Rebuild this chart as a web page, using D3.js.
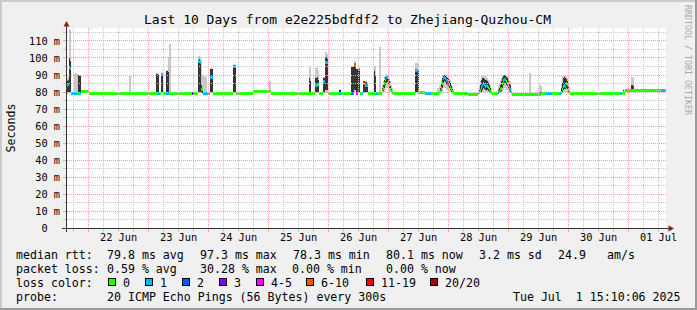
<!DOCTYPE html>
<html>
<head>
<meta charset="utf-8">
<script src="https://cdn.jsdelivr.net/npm/d3@7"></script>
<style>
  body { margin: 0; background: #f0f0f0; }
  svg { display: block; font-family: "DejaVu Sans Mono", monospace; }
  text { white-space: pre; }
</style>
</head>
<body>
<svg id="chart" width="697" height="310"></svg>
<script>
// ---- data (hours counted from Jun 21 00:00, graph runs 15:10 .. Jul 1 15:10) ----
var startHour = 15 + 10 / 60,
    endHour = 255 + 10 / 60,
    stepH = 0.4;              // one consolidated row = 24 min

// median rtt between the spikes: [from hour, ms]
var baseline = [
  [15.2, 78.9], [21.2, 79.8], [24.4, 78.9], [90.0, 79.8], [97.2, 78.9],
  [156.4, 79.6], [158.8, 78.9], [176.0, 78.3], [180.0, 78.9], [193.6, 78.2],
  [205.2, 78.6], [207.2, 78.9], [238.8, 80.4]
];

// rows on the baseline that only show packet loss: [hour, lost pings of 20]
var baseLoss = [
  [17.2, 1], [17.6, 1], [18.0, 1], [52.4, 1], [65.6, 3], [66.0, 3],
  [71.6, 1], [72.0, 1], [72.4, 1], [133.6, 1], [138.0, 1], [139.2, 1], [139.6, 1], [141.2, 1],
  [158.8, 1], [159.2, 1], [159.6, 1], [160.0, 1], [160.4, 1], [160.8, 1], [174.8, 1],
  [207.2, 1], [207.6, 1], [208.0, 1], [208.4, 1], [208.8, 1], [209.2, 1],
  [212.4, 1], [212.8, 1], [236.8, 1], [253.2, 1], [253.6, 1], [254.0, 1], [254.4, 1]
];

// rows with smoke: [hour, median, lost, min, low, high, max]  (ms)
var samples = [
  [15.6, 83.5, 1, 78.5, 79.0, 86.0, 88.0],
  [16.0, 84.0, 1, 78.5, 80.0, 87.0, 90.0],
  [16.4, 94.0, 1, 79.0, 80.0, 100.0, 116.5],
  [16.8, 93.8, 1, 79.0, 80.0, 98.0, 116.0],
  [18.4, 79.0, 1, 78.5, 78.8, 79.5, 90.5],
  [18.8, 79.0, 1, 78.5, 78.8, 79.5, 90.8],
  [19.2, 79.0, 1, 78.5, 78.8, 79.5, 90.8],
  [19.6, 79.0, 0, 78.5, 78.8, 79.5, 90.5],
  [20.0, 79.0, 0, 78.5, 79.0, 89.5, 90.0],
  [20.4, 79.0, 1, 78.5, 79.0, 89.5, 90.0],
  [20.8, 79.0, 1, 78.5, 79.0, 89.0, 90.0],
  [40.4, 78.9, 0, 78.5, 78.8, 79.2, 89.4],
  [40.8, 78.9, 0, 78.5, 78.8, 79.2, 89.0],
  [51.2, 79.0, 0, 78.5, 79.5, 90.5, 91.0],
  [51.6, 79.0, 0, 78.5, 79.5, 90.5, 91.0],
  [52.0, 79.0, 1, 78.5, 79.5, 90.0, 91.0],
  [53.2, 89.8, 1, 79.0, 80.0, 90.0, 91.5],
  [53.6, 89.8, 1, 79.0, 80.0, 90.0, 91.0],
  [55.2, 79.0, 1, 78.5, 79.5, 92.0, 92.5],
  [55.6, 79.0, 1, 78.5, 79.5, 92.0, 92.5],
  [56.0, 79.0, 1, 78.5, 80.0, 91.5, 100.0],
  [56.4, 79.0, 0, 78.5, 79.0, 80.0, 108.0],
  [56.8, 79.0, 0, 78.5, 79.0, 79.5, 108.0],
  [68.0, 97.8, 1, 79.0, 80.0, 98.7, 100.7],
  [68.4, 97.8, 1, 79.0, 80.0, 99.0, 101.0],
  [68.8, 97.0, 1, 79.0, 80.0, 98.0, 100.0],
  [69.2, 81.2, 0, 79.0, 79.5, 84.0, 99.0],
  [69.6, 81.0, 0, 78.5, 79.0, 82.0, 90.0],
  [70.0, 79.0, 1, 78.5, 78.8, 79.5, 89.0],
  [70.4, 79.0, 1, 78.5, 78.8, 79.5, 89.0],
  [70.8, 79.0, 1, 78.5, 78.8, 79.5, 88.8],
  [71.2, 79.0, 1, 78.5, 78.8, 79.5, 88.5],
  [72.8, 88.4, 1, 79.0, 80.0, 93.5, 94.0],
  [73.2, 88.4, 1, 79.0, 80.0, 93.5, 94.0],
  [73.6, 88.4, 1, 79.0, 80.0, 93.0, 93.8],
  [82.0, 95.0, 1, 79.0, 80.0, 95.8, 96.0],
  [82.4, 95.0, 1, 79.0, 80.0, 95.8, 96.0],
  [82.8, 94.8, 1, 79.0, 80.0, 95.0, 95.5],
  [96.4, 79.8, 0, 79.5, 79.7, 80.0, 86.0],
  [96.8, 79.8, 0, 79.5, 79.7, 80.0, 86.0],
  [112.4, 79.0, 1, 78.5, 79.5, 88.0, 94.5],
  [112.8, 79.0, 0, 78.5, 79.5, 86.0, 94.5],
  [114.8, 83.7, 1, 79.0, 80.0, 88.0, 94.0],
  [115.2, 83.7, 1, 79.0, 80.0, 88.0, 94.0],
  [115.6, 83.7, 1, 79.0, 80.0, 88.5, 94.5],
  [116.0, 84.0, 0, 79.0, 80.0, 87.0, 92.0],
  [118.0, 86.0, 1, 79.0, 80.0, 88.0, 88.5],
  [118.4, 86.0, 1, 79.0, 80.0, 88.0, 88.5],
  [118.8, 97.2, 1, 79.0, 81.0, 100.0, 103.0],
  [119.2, 97.2, 1, 79.0, 81.0, 100.0, 103.0],
  [119.6, 97.0, 1, 79.0, 81.0, 99.0, 102.0],
  [124.4, 79.0, 1, 78.5, 79.0, 81.0, 81.5],
  [124.8, 79.0, 1, 78.5, 79.0, 81.0, 81.5],
  [129.2, 79.0, 2, 78.5, 80.0, 94.5, 95.0],
  [129.6, 79.0, 2, 78.5, 80.0, 94.5, 95.0],
  [130.0, 79.0, 1, 78.5, 80.0, 94.5, 95.0],
  [130.4, 96.0, 6, 79.0, 81.0, 96.0, 98.2],
  [130.8, 96.0, 6, 79.0, 81.0, 96.0, 98.2],
  [131.2, 79.0, 4, 78.5, 80.0, 93.0, 93.5],
  [131.6, 79.0, 4, 78.5, 80.0, 93.0, 93.5],
  [132.0, 92.9, 1, 79.0, 80.0, 93.5, 94.0],
  [132.4, 92.9, 1, 79.0, 80.0, 93.5, 94.0],
  [134.0, 84.5, 6, 79.0, 80.0, 86.0, 86.5],
  [134.4, 84.5, 6, 79.0, 80.0, 86.0, 86.5],
  [134.8, 83.4, 1, 79.0, 80.0, 85.5, 86.0],
  [135.2, 83.4, 1, 79.0, 80.0, 85.5, 86.0],
  [135.6, 83.4, 1, 79.0, 80.0, 84.0, 85.0],
  [138.4, 79.0, 0, 78.5, 79.5, 92.0, 95.0],
  [138.8, 79.0, 0, 78.5, 79.5, 90.0, 94.9],
  [140.4, 79.0, 0, 78.5, 79.0, 80.0, 106.4],
  [140.8, 79.0, 0, 78.5, 79.0, 80.0, 106.4],
  [141.6, 80.5, 0, 79.0, 79.5, 82.0, 84.0],
  [142.0, 82.0, 0, 79.5, 80.5, 84.0, 86.0],
  [142.4, 84.5, 0, 80.0, 82.0, 87.0, 89.0],
  [142.8, 86.5, 0, 81.0, 84.0, 88.5, 90.0],
  [143.2, 88.0, 1, 82.0, 85.0, 89.0, 90.5],
  [143.6, 88.0, 1, 82.0, 85.5, 89.0, 90.0],
  [144.0, 86.0, 1, 81.0, 84.0, 88.0, 89.5],
  [144.4, 83.5, 0, 80.0, 82.0, 86.0, 88.0],
  [144.8, 81.5, 0, 79.5, 80.5, 83.5, 86.0],
  [145.2, 80.0, 0, 79.0, 79.5, 81.5, 84.0],
  [145.6, 79.3, 0, 78.8, 79.0, 80.0, 82.0],
  [154.8, 92.2, 1, 79.0, 80.0, 93.0, 96.5],
  [155.2, 92.2, 1, 79.0, 80.0, 93.0, 96.5],
  [155.6, 92.2, 1, 79.0, 80.0, 93.0, 96.5],
  [156.0, 79.6, 0, 79.0, 80.0, 92.0, 96.0],
  [163.6, 78.9, 0, 78.5, 78.8, 80.0, 82.0],
  [164.0, 78.9, 0, 78.5, 78.8, 80.0, 82.0],
  [164.4, 79.2, 0, 78.5, 78.8, 80.5, 83.0],
  [164.8, 80.0, 0, 79.0, 79.5, 82.0, 84.0],
  [165.2, 82.0, 0, 79.5, 80.5, 85.0, 87.0],
  [165.6, 85.0, 0, 80.0, 82.0, 88.0, 89.5],
  [166.0, 87.5, 1, 82.0, 85.0, 89.0, 90.0],
  [166.4, 88.3, 1, 82.0, 86.0, 89.5, 90.0],
  [166.8, 87.5, 1, 82.0, 85.5, 89.0, 90.0],
  [167.2, 86.8, 1, 81.0, 84.5, 88.5, 89.5],
  [167.6, 86.4, 1, 81.0, 84.0, 88.0, 89.5],
  [168.0, 86.0, 1, 81.0, 83.5, 88.0, 89.0],
  [168.4, 84.0, 0, 80.0, 82.0, 86.5, 88.0],
  [168.8, 82.5, 0, 79.5, 81.0, 85.0, 87.0],
  [169.2, 81.0, 0, 79.0, 80.0, 83.0, 85.0],
  [169.6, 80.0, 0, 79.0, 79.5, 81.5, 83.0],
  [170.0, 79.3, 0, 78.8, 79.0, 80.0, 81.0],
  [180.4, 79.5, 0, 78.5, 79.0, 81.0, 83.0],
  [180.8, 80.5, 0, 79.0, 79.5, 84.0, 86.0],
  [181.2, 82.5, 0, 79.0, 80.0, 87.0, 89.0],
  [181.6, 83.7, 1, 79.5, 81.0, 88.0, 89.2],
  [182.0, 85.0, 0, 80.0, 82.0, 88.0, 89.0],
  [182.4, 84.0, 1, 80.0, 81.5, 87.5, 89.0],
  [182.8, 83.0, 0, 80.0, 81.0, 87.0, 89.0],
  [183.2, 83.3, 1, 80.0, 81.0, 87.0, 88.5],
  [183.6, 83.0, 0, 79.5, 81.0, 86.0, 88.0],
  [184.0, 82.5, 0, 79.5, 80.5, 85.0, 87.0],
  [184.4, 81.5, 0, 79.0, 80.0, 84.0, 86.0],
  [184.8, 80.2, 0, 79.0, 79.5, 82.0, 84.0],
  [185.2, 79.3, 0, 78.8, 79.0, 80.0, 82.0],
  [188.0, 79.5, 1, 78.8, 79.0, 81.0, 83.0],
  [188.4, 80.0, 1, 79.0, 79.5, 82.0, 85.0],
  [188.8, 81.2, 0, 79.0, 80.0, 84.0, 87.0],
  [189.2, 82.0, 0, 79.5, 80.5, 86.0, 88.0],
  [189.6, 84.5, 0, 80.0, 82.0, 88.0, 89.5],
  [190.0, 86.5, 0, 81.0, 84.0, 89.0, 90.0],
  [190.4, 87.2, 1, 82.0, 85.0, 89.5, 90.0],
  [190.8, 87.0, 1, 82.0, 85.0, 89.0, 90.0],
  [191.2, 85.8, 0, 81.0, 84.0, 88.5, 89.5],
  [191.6, 85.0, 0, 81.0, 83.0, 88.0, 89.0],
  [192.0, 84.2, 0, 80.0, 82.0, 87.0, 88.5],
  [192.4, 82.5, 1, 79.5, 81.0, 85.0, 87.0],
  [192.8, 81.5, 1, 79.0, 80.0, 84.0, 86.0],
  [193.2, 79.5, 0, 78.5, 79.0, 80.5, 82.0],
  [200.4, 78.2, 0, 78.0, 78.2, 79.0, 90.7],
  [200.8, 78.2, 0, 78.0, 78.2, 79.0, 90.7],
  [204.4, 78.4, 0, 78.0, 78.3, 80.0, 84.0],
  [204.8, 78.4, 0, 78.0, 78.3, 80.0, 84.0],
  [205.2, 78.6, 0, 78.0, 78.3, 80.0, 83.0],
  [213.2, 79.5, 1, 78.8, 79.0, 82.0, 85.0],
  [213.6, 81.0, 0, 79.0, 80.0, 85.0, 89.0],
  [214.0, 83.0, 0, 79.5, 81.0, 88.0, 90.0],
  [214.4, 83.4, 1, 80.0, 81.5, 88.5, 90.0],
  [214.8, 83.2, 1, 80.0, 81.5, 88.0, 89.5],
  [215.2, 84.5, 0, 80.0, 82.0, 87.5, 89.0],
  [215.6, 84.0, 0, 80.0, 81.5, 86.0, 88.0],
  [216.0, 81.0, 0, 79.0, 80.0, 83.0, 85.0],
  [216.4, 79.5, 0, 78.8, 79.0, 80.5, 82.0],
  [238.0, 79.5, 0, 78.8, 79.5, 81.0, 81.5],
  [241.2, 80.4, 0, 80.0, 80.5, 84.0, 88.8],
  [241.6, 80.4, 0, 80.0, 80.5, 84.0, 88.8],
  [242.0, 80.4, 0, 80.0, 80.5, 83.0, 88.0]
];

// loss colour bins (lost pings out of 20)
var lossUpper  = [0, 1, 2, 3, 5, 10, 19, 20];
var lossLabels = ["0", "1", "2", "3", "4-5", "6-10", "11-19", "20/20"];
var lossColors = ["#26ff00", "#00b8ff", "#0059ff", "#7e00ff", "#ff00ff", "#ff5500", "#ff0000", "#a10000"];

var rttStats  = ["79.8 ms avg", "97.3 ms max", "78.3 ms min", "80.1 ms now", "3.2 ms sd", "24.9", "am/s"];
var lossStats = ["0.59 % avg", "30.28 % max", "0.00 % min", "0.00 % now"];
var probeText = "20 ICMP Echo Pings (56 Bytes) every 300s";
var stampText = "Tue Jul  1 15:10:06 2025";
var titleText = "Last 10 Days from e2e225bdfdf2 to Zhejiang-Quzhou-CM";
var yMax = 117.3;

// ---- helpers ----
var t0 = new Date(2025, 5, 21);
function hourDate(h) { return new Date(t0.getTime() + h * 3600000); }
function lossColor(n) {
  for (var i = 0; i < lossUpper.length; i++) if (n <= lossUpper[i]) return lossColors[i];
  return lossColors[lossColors.length - 1];
}

var svg = d3.select("#chart");

var x = d3.scaleTime()
    .domain([hourDate(startHour), hourDate(endHour)])
    .range([66, 666]);
var y = d3.scaleLinear()
    .domain([0, yMax])
    .range([228, 28]);

// background + 3d frame
svg.append("rect").attr("width", 697).attr("height", 310).attr("fill", "#f0f0f0");
svg.append("rect").attr("width", 697).attr("height", 2).attr("fill", "#cbcbcb");
svg.append("rect").attr("width", 2).attr("height", 310).attr("fill", "#cbcbcb");
svg.append("rect").attr("y", 308).attr("width", 697).attr("height", 2).attr("fill", "#999999");
svg.append("rect").attr("x", 695).attr("width", 2).attr("height", 310).attr("fill", "#999999");

// canvas
svg.append("rect").attr("x", 66).attr("y", 28).attr("width", 600).attr("height", 200).attr("fill", "#ffffff");

// ---- one column per consolidated row ----
var sampleByKey = new Map(samples.map(function(r) { return [Math.round(r[0] * 10), r]; }));
var lossByKey = new Map(baseLoss.map(function(r) { return [Math.round(r[0] * 10), r[1]]; }));
var bisect = d3.bisector(function(d) { return d[0]; }).right;
var firstRow = Math.ceil(startHour / stepH) * stepH;
var nCols = Math.round((endHour - firstRow) / stepH);

var columns = d3.range(nCols).map(function(i) {
  var h = firstRow + i * stepH, k = Math.round(h * 10), s = sampleByKey.get(k);
  if (s) return {h: h, med: s[1], loss: s[2], min: s[3], lo: s[4], hi: s[5], max: s[6]};
  var b = baseline[Math.max(0, bisect(baseline, h + 1e-6) - 1)];
  return {h: h, med: b[1], loss: lossByKey.get(k) || 0};
});

function colX(d) { return Math.floor(x(hourDate(d.h))); }
function colW(d) { return Math.max(1, Math.floor(x(hourDate(d.h + stepH))) - colX(d)); }

var plot = svg.append("g").attr("shape-rendering", "crispEdges");
var smoky = columns.filter(function(d) { return d.max != null; });

// outer smoke
plot.selectAll(".smokeOut")
  .data(smoky)
  .enter()
  .append("rect")
    .attr("x", colX)
    .attr("width", colW)
    .attr("y", function(d) { return y(d.max); })
    .attr("height", function(d) { return y(d.min) - y(d.max); })
    .attr("fill", "#c9c9c9");

// inner smoke
plot.selectAll(".smokeIn")
  .data(smoky)
  .enter()
  .append("rect")
    .attr("x", colX)
    .attr("width", colW)
    .attr("y", function(d) { return y(d.hi); })
    .attr("height", function(d) { return y(d.lo) - y(d.hi); })
    .attr("fill", "#353535");

// median coloured by loss
plot.selectAll(".median")
  .data(columns)
  .enter()
  .append("rect")
    .attr("x", colX)
    .attr("width", colW)
    .attr("y", function(d) { return y(d.med) - 1.5; })
    .attr("height", 3)
    .attr("fill", function(d) { return lossColor(d.loss); });

// ---- grid (drawn over the data, like rrdtool) ----
var grid = svg.append("g").attr("shape-rendering", "crispEdges").attr("fill", "none");
var yMajor = y.ticks(12).filter(function(v) { return v > 0; });
var yMinor = y.ticks(24).filter(function(v) { return v > 0 && yMajor.indexOf(v) < 0; });
var xRange = x.domain();
var xMajor = d3.timeDay.range(xRange[0], xRange[1]);
var xMinor = d3.timeHour.every(6).range(xRange[0], xRange[1])
    .filter(function(d) { return d.getHours() !== 0; });

function hLines(vals, col) {
  grid.selectAll(null).data(vals).enter().append("line")
    .attr("x1", 67).attr("x2", 666)
    .attr("y1", function(v) { return Math.round(y(v)) + 0.5; })
    .attr("y2", function(v) { return Math.round(y(v)) + 0.5; })
    .attr("stroke", col).attr("stroke-dasharray", "1,1");
  grid.selectAll(null).data(vals).enter().append("line")
    .attr("x1", 63).attr("x2", 66)
    .attr("y1", function(v) { return Math.round(y(v)) + 0.5; })
    .attr("y2", function(v) { return Math.round(y(v)) + 0.5; })
    .attr("stroke", col);
}
function vLines(vals, col) {
  grid.selectAll(null).data(vals).enter().append("line")
    .attr("x1", function(d) { return Math.floor(x(d)) + 0.5; })
    .attr("x2", function(d) { return Math.floor(x(d)) + 0.5; })
    .attr("y1", 28).attr("y2", 228)
    .attr("stroke", col).attr("stroke-dasharray", "1,1");
  grid.selectAll(null).data(vals).enter().append("line")
    .attr("x1", function(d) { return Math.floor(x(d)) + 0.5; })
    .attr("x2", function(d) { return Math.floor(x(d)) + 0.5; })
    .attr("y1", 229).attr("y2", 232)
    .attr("stroke", col);
}
hLines(yMinor, "#c8c8c8");
vLines(xMinor, "#c8c8c8");
hLines(yMajor, "#f3a3a3");
vLines(xMajor, "#f3a3a3");

// ---- axes ----
var axes = svg.append("g").attr("shape-rendering", "crispEdges");
axes.append("line").attr("x1", 62).attr("x2", 670).attr("y1", 228.5).attr("y2", 228.5).attr("stroke", "#333");
axes.append("line").attr("x1", 66.5).attr("x2", 66.5).attr("y1", 232).attr("y2", 25).attr("stroke", "#333");
svg.append("path").attr("d", "M63.5,26.5L66.5,21L69.5,26.5Z").attr("fill", "#8b1e1e");
svg.append("path").attr("d", "M668.5,225.5L674,228.5L668.5,231.5Z").attr("fill", "#8b1e1e");

// y labels
var yAxis = d3.axisLeft(y)
    .ticks(12)
    .tickSize(0)
    .tickPadding(0)
    .tickFormat(function(d) { return d ? d + " m" : "0"; });
var yg = svg.append("g").attr("transform", "translate(60,0)").call(yAxis);
yg.select(".domain").remove();
yg.selectAll("text")
    .attr("font-family", "DejaVu Sans Mono, monospace")
    .attr("font-size", "10.3px")
    .attr("fill", "#000")
    .attr("dy", "0.36em")
    .attr("x", function(d) { return d ? 0 : -12.4; });
yg.attr("font-family", null).attr("font-size", null);

// x labels at noon
var noons = d3.timeDay.range(xRange[0], xRange[1])
    .map(function(d) { return d3.timeHour.offset(d, 12); })
    .filter(function(d) { return d < xRange[1]; });
var xAxis = d3.axisBottom(x)
    .tickValues(noons)
    .tickSize(0)
    .tickPadding(0)
    .tickFormat(d3.timeFormat("%d %b"));
var xg = svg.append("g").attr("transform", "translate(0,240.5)").call(xAxis);
xg.select(".domain").remove();
xg.selectAll("text")
    .attr("font-family", "DejaVu Sans Mono, monospace")
    .attr("font-size", "10.3px")
    .attr("fill", "#000")
    .attr("y", 0)
    .attr("dy", 0);
xg.attr("font-family", null).attr("font-size", null);

// ---- titles ----
svg.append("text")
    .attr("x", 347.5).attr("y", 24)
    .attr("text-anchor", "middle")
    .attr("font-size", "13px")
    .text(titleText);

svg.append("text")
    .attr("transform", "translate(14.5,128) rotate(-90)")
    .attr("text-anchor", "middle")
    .attr("font-size", "11.6px")
    .text("Seconds");

svg.append("text")
    .attr("transform", "translate(685,5) rotate(90)")
    .attr("font-size", "8.3px")
    .attr("fill", "#a8a8a8")
    .text("RRDTOOL / TOBI OETIKER");

// ---- legend ----
var leg = svg.append("g").attr("font-size", "11.6px").attr("fill", "#000");
var rowY = [259, 272.8, 286.7, 300.8];

leg.append("text").attr("x", 16).attr("y", rowY[0]).text("median rtt:");
leg.selectAll(".rtt")
  .data(rttStats)
  .enter()
  .append("text")
    .attr("x", function(d, i) { return [107, 200, 293, 386, 479, 558, 607][i]; })
    .attr("y", rowY[0])
    .text(function(d) { return d; });

leg.append("text").attr("x", 16).attr("y", rowY[1]).text("packet loss:");
leg.selectAll(".pl")
  .data(lossStats)
  .enter()
  .append("text")
    .attr("x", function(d, i) { return [107, 200, 292, 386][i]; })
    .attr("y", rowY[1])
    .text(function(d) { return d; });

leg.append("text").attr("x", 16).attr("y", rowY[2]).text("loss color:");
var swatchX = [108, 145, 182, 219, 256, 306, 366, 430];
leg.selectAll(".sw")
  .data(lossColors)
  .enter()
  .append("rect")
    .attr("x", function(d, i) { return swatchX[i] + 0.5; })
    .attr("y", 278.5)
    .attr("width", 7)
    .attr("height", 7)
    .attr("fill", function(d) { return d; })
    .attr("stroke", "#000")
    .attr("shape-rendering", "crispEdges");
leg.selectAll(".swt")
  .data(lossLabels)
  .enter()
  .append("text")
    .attr("x", function(d, i) { return swatchX[i] + 15; })
    .attr("y", rowY[2])
    .text(function(d) { return d; });

leg.append("text").attr("x", 16).attr("y", rowY[3]).text("probe:");
leg.append("text").attr("x", 107).attr("y", rowY[3]).text(probeText);
leg.append("text").attr("x", 680.5).attr("y", rowY[3]).attr("text-anchor", "end").text(stampText);
</script>
</body>
</html>
